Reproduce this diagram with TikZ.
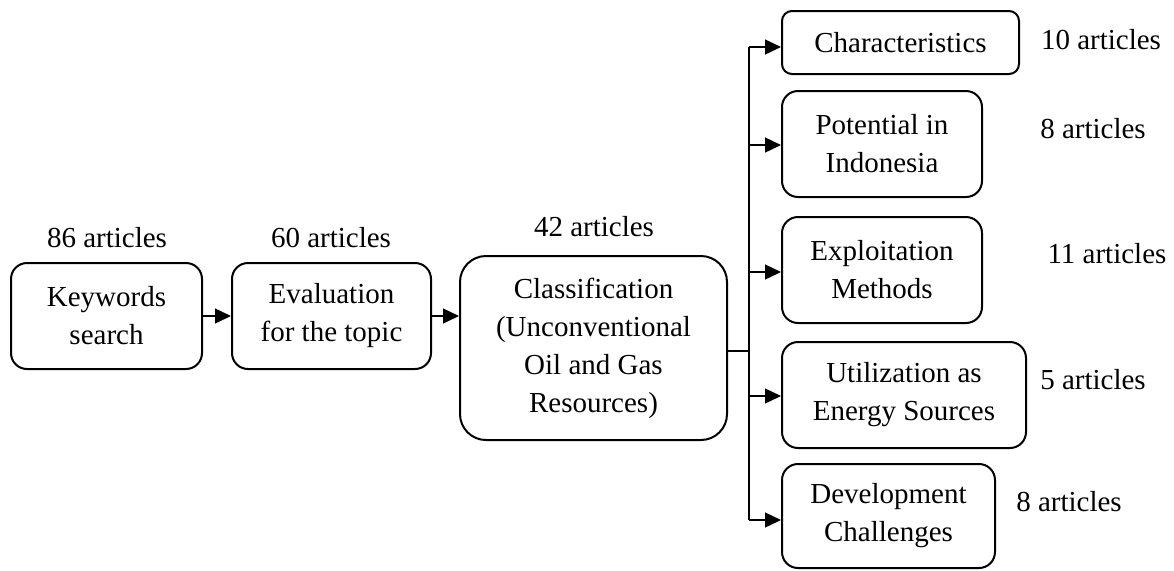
\documentclass[tikz,border=0pt]{standalone}
\usepackage{fontspec}
\setmainfont{Liberation Serif}
\usetikzlibrary{arrows.meta}
\begin{document}
\begin{tikzpicture}[x=0.5pt,y=-0.5pt,
  every node/.style={font=\fontsize{14.5}{19}\selectfont},
  box/.style={draw,line width=1pt,rounded corners=8pt,align=center,inner sep=0pt},
  lbl/.style={anchor=base,inner sep=0pt},
  arr/.style={line width=0.7pt,-{Triangle[length=8pt,width=7.5pt]}},
  ln/.style={line width=0.7pt}]
\useasboundingbox (0,0) rectangle (1174,570);
% main boxes
\node[box,minimum width=95.5pt,minimum height=53pt] (b1) at (106.5,316) {Keywords\\search};
\node[box,minimum width=99.5pt,minimum height=53pt] (b2) at (331.5,316) {Evaluation\\for the topic};
\node[box,rounded corners=13pt,minimum width=133.5pt,minimum height=92pt] (b3) at (593.5,348) {Classification\\(Unconventional\\Oil and Gas\\Resources)};
% branch boxes
\node[box,rounded corners=5pt,minimum width=118.5pt,minimum height=31.5pt] (c1) at (900.5,42.5) {Characteristics};
\node[box,minimum width=100pt,minimum height=53pt] (c2) at (882,144) {Potential in\\Indonesia};
\node[box,minimum width=100pt,minimum height=53pt] (c3) at (882,270) {Exploitation\\Methods};
\node[box,minimum width=122pt,minimum height=53pt] (c4) at (904,395) {Utilization as\\Energy Sources};
\node[box,minimum width=106.5pt,minimum height=52pt] (c5) at (888.5,516) {Development\\Challenges};
% labels
\node[lbl] (l1) at (107,247) {86 articles};
\node[lbl] (l2) at (331,247) {60 articles};
\node[lbl] (l3) at (594,236) {42 articles};
\node[lbl] (l4) at (1101,49) {10 articles};
\node[lbl] (l5) at (1093,138) {8 articles};
\node[lbl] (l6) at (1107,263) {11 articles};
\node[lbl] (l7) at (1093,389) {5 articles};
\node[lbl] (l8) at (1069,511) {8 articles};
% connectors
\coordinate (j) at (749,351);
\coordinate (t1) at (749,47);
\coordinate (t2) at (749,145);
\coordinate (t3) at (749,272);
\coordinate (t4) at (749,396);
\coordinate (t5) at (749,520);
\draw[arr] (b1.east) -- (b2.west);
\draw[arr] (b2.east) -- (b2.east -| b3.west);
\draw[ln] (b3.east |- j) -- (j);
\draw[ln] (t1) -- (t5);
\draw[arr] (t1) -- (t1 -| c1.west);
\draw[arr] (t2) -- (t2 -| c2.west);
\draw[arr] (t3) -- (t3 -| c3.west);
\draw[arr] (t4) -- (t4 -| c4.west);
\draw[arr] (t5) -- (t5 -| c5.west);
\end{tikzpicture}
\end{document}
